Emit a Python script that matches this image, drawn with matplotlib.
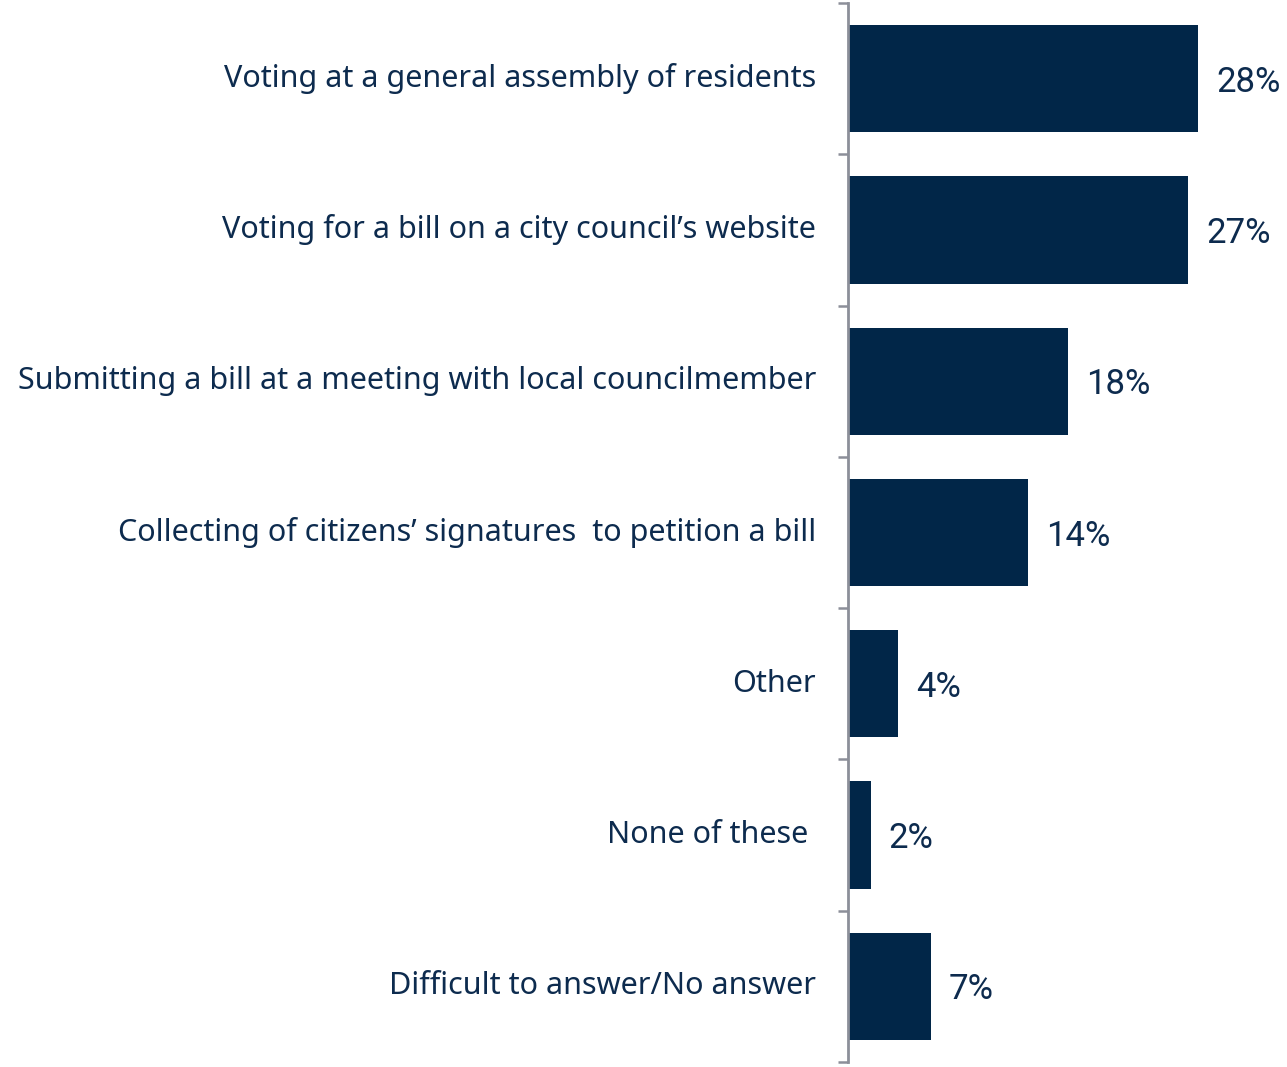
import matplotlib.pyplot as plt
import numpy as np

# data (bar lengths in %)
categories = [
    'Voting at a general assembly of residents',
    'Voting for a bill on a city council\u2019s website',
    'Submitting a bill at a meeting with local councilmember',
    'Collecting of citizens\u2019 signatures  to petition a bill',
    'Other',
    'None of these ',
    'Difficult to answer/No answer',
]
values = [28.0, 27.2, 17.6, 14.4, 4.0, 1.8, 6.6]
value_labels = ['28%', '27%', '18%', '14%', '4%', '2%', '7%']

bar_color = '#012648'
text_color = '#0D2B4E'
axis_color = '#8C8F99'

fig = plt.figure(figsize=(12.87, 10.67), dpi=100)
ax = fig.add_axes([848 / 1287, 5 / 1067, (1287 - 848) / 1287, 1059 / 1067])

y = np.arange(len(categories))
ax.barh(y, values, height=0.71, color=bar_color, zorder=2)

for yi, v, lab in zip(y, values, value_labels):
    ax.text(v + 1.45, yi, lab, va='center_baseline', ha='left', color=text_color,
            fontsize=25, family=['Roboto', 'DejaVu Sans'])

ax.set_xlim(0, (1287 - 848) / 12.5)
ax.set_ylim(len(categories) - 0.5, -0.5)

# category labels at centres, tick marks at boundaries
ax.set_yticks(y)
ax.set_yticklabels(categories, fontsize=22, color=text_color, va='center',
                   family=['Noto Sans', 'DejaVu Sans'])
ax.tick_params(axis='y', which='major', length=0, pad=23)
ax.set_yticks(np.arange(-0.5, len(categories)), minor=True)
ax.tick_params(axis='y', which='minor', length=7.5, width=1.8, color=axis_color)

ax.set_xticks([])
for side in ['top', 'right', 'bottom']:
    ax.spines[side].set_visible(False)
ax.spines['left'].set_color(axis_color)
ax.spines['left'].set_linewidth(2)

fig.savefig('out.png', dpi=100)
